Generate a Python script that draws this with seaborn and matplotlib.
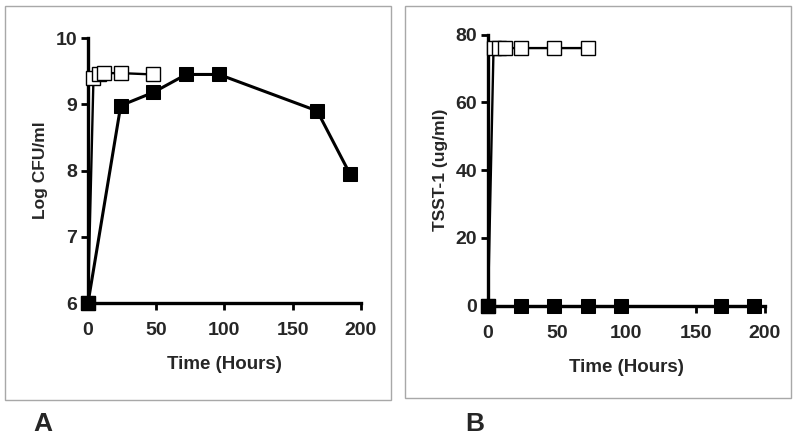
import numpy as np
import pandas as pd
import seaborn as sns
import matplotlib.pyplot as plt
from matplotlib.patches import Rectangle

sns.set_style("white")
plt.rcParams["font.family"] = ["Liberation Sans", "DejaVu Sans"]
plt.rcParams["font.weight"] = "bold"

# Panel A: growth (Log CFU/ml)
cfu_open_hours = [0, 4, 8, 12, 24, 48]
cfu_open_values = [6.0, 9.39, 9.45, 9.47, 9.47, 9.45]
cfu_filled_hours = [0, 24, 48, 72, 96, 168, 192]
cfu_filled_values = [6.0, 8.98, 9.18, 9.45, 9.45, 8.9, 7.95]

# Panel B: TSST-1 (ug/ml)
tsst_open_hours = [0, 4, 8, 12, 24, 48, 72]
tsst_open_values = [0, 76, 76, 76, 76, 76, 76]
tsst_filled_hours = [0, 24, 48, 72, 96, 168, 192]
tsst_filled_values = [0, 0, 0, 0, 0, 0, 0]

x_ticks = [0, 50, 100, 150, 200]
cfu_ticks = [6, 7, 8, 9, 10]
tsst_ticks = [0, 20, 40, 60, 80]


def draw_panel(ax, open_x, open_y, filled_x, filled_y, yticks, ylabel):
    """Draws one panel with the open and filled square series"""
    sns.lineplot(x=open_x, y=open_y, ax=ax, color="black", lw=1.7,
                 marker="s", markersize=9.5, markerfacecolor="white",
                 markeredgecolor="black", markeredgewidth=1.0,
                 clip_on=False, zorder=3)
    sns.lineplot(x=filled_x, y=filled_y, ax=ax, color="black", lw=2.2,
                 marker="s", markersize=10.5, markerfacecolor="black",
                 markeredgecolor="black", clip_on=False, zorder=4)
    ax.set_xlim(0, 200)
    ax.set_ylim(yticks[0], yticks[-1])
    ax.set_xticks(x_ticks)
    ax.set_yticks(yticks)
    ax.set_xlabel("Time (Hours)", fontsize=13.5, fontweight="bold",
                  labelpad=12)
    ax.set_ylabel(ylabel, fontsize=12.5, fontweight="bold", labelpad=5)
    for side in ["top", "right"]:
        ax.spines[side].set_visible(False)
    for side in ["left", "bottom"]:
        ax.spines[side].set_linewidth(2.4)
        ax.spines[side].set_color("black")
    ax.tick_params(axis="both", direction="out", length=5, width=2.0,
                   labelsize=14, color="black", left=True, bottom=True)
    ax.tick_params(axis="y", pad=3)
    ax.tick_params(axis="x", pad=9)
    for lbl in ax.get_xticklabels() + ax.get_yticklabels():
        lbl.set_fontweight("bold")
    ax.set_facecolor("white")


fig = plt.figure(figsize=(8, 4.37), dpi=100)
fig.patch.set_facecolor("white")

fig.add_artist(Rectangle((5 / 800, 1 - 400 / 437), 386 / 800, 394 / 437,
                         transform=fig.transFigure, fill=False,
                         edgecolor="#a8a8a8", lw=1.0))
fig.add_artist(Rectangle((405 / 800, 1 - 398 / 437), 386 / 800, 392 / 437,
                         transform=fig.transFigure, fill=False,
                         edgecolor="#a8a8a8", lw=1.0))

ax1 = fig.add_axes([0.11, 0.3066, 0.341, 0.6064])
draw_panel(ax1, cfu_open_hours, cfu_open_values, cfu_filled_hours,
           cfu_filled_values, cfu_ticks, "Log CFU/ml")

ax2 = fig.add_axes([0.61, 0.3005, 0.346, 0.6205])
draw_panel(ax2, tsst_open_hours, tsst_open_values, tsst_filled_hours,
           tsst_filled_values, tsst_ticks, "TSST-1 (ug/ml)")

fig.text(33 / 800, 1 - 431 / 437, "A", fontsize=19, fontweight="bold",
         va="baseline")
fig.text(465 / 800, 1 - 431 / 437, "B", fontsize=19, fontweight="bold",
         va="baseline")

fig.savefig("out.png", dpi=100)
plt.close(fig)
